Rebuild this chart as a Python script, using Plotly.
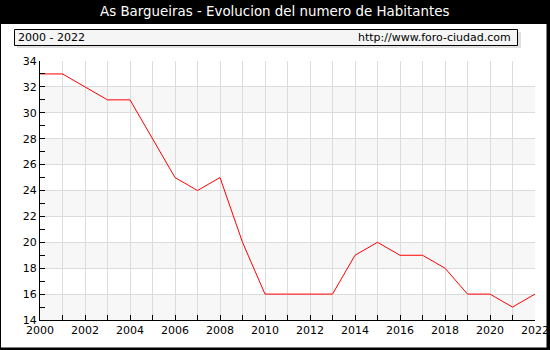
import plotly.graph_objects as go

years = list(range(2000, 2023))
habitantes = [33, 33, 32, 31, 31, 28, 25, 24, 25, 20, 16, 16, 16, 16, 19, 20, 19, 19, 18, 16, 16, 15, 16]
title_text = "As Bargueiras - Evolucion del numero de Habitantes"
period_text = "2000 - 2022"
url_text = "http://www.foro-ciudad.com"
y_range = [14, 34]
x_tick_vals = list(range(2000, 2023, 2))
y_tick_vals = list(range(14, 35, 2))
band_ranges = [(14, 16), (18, 20), (22, 24), (26, 28), (30, 32)]

W, H = 550, 350
L, R, T, B = 40, 535, 61, 320
pw, ph = R - L, B - T


def px(x):
    return (x - L) / pw


def py(y):
    return (B - y) / ph


fig = go.Figure()
fig.add_trace(go.Scatter(x=years, y=habitantes, mode="lines",
                         line=dict(color="#ff0000", width=1), hoverinfo="x+y"))

shapes = []
# white panel
shapes.append(dict(type="rect", xref="paper", yref="paper", x0=px(1), x1=px(546.5),
                   y0=py(347.5), y1=py(24), fillcolor="white", line=dict(width=0), layer="below"))
# stripes
for a, b in band_ranges:
    shapes.append(dict(type="rect", xref="paper", yref="y", x0=0, x1=1, y0=a, y1=b,
                       fillcolor="#f7f7f7", line=dict(width=0), layer="below"))
# header box shadow
shapes.append(dict(type="rect", xref="paper", yref="paper", x0=px(17), x1=px(521),
                   y0=py(48), y1=py(32), fillcolor="#e0e0e0", line=dict(width=0), layer="above"))
shapes.append(dict(type="rect", xref="paper", yref="paper", x0=px(14.5), x1=px(517.5),
                   y0=py(45.5), y1=py(29.5), fillcolor="#f5f5f5",
                   line=dict(color="black", width=1), layer="above"))

annotations = [
    dict(text=title_text, xref="paper", yref="paper", x=px(274), y=py(12), showarrow=False,
         font=dict(family="DejaVu Sans", size=13.4, color="white"), xanchor="center", yanchor="middle"),
    dict(text=period_text, xref="paper", yref="paper", x=px(16), y=py(37.5), showarrow=False,
         font=dict(family="DejaVu Sans", size=11, color="black"), xanchor="left", yanchor="middle"),
    dict(text=url_text, xref="paper", yref="paper", x=px(513), y=py(37.5), showarrow=False,
         font=dict(family="DejaVu Sans", size=11, color="black"), xanchor="right", yanchor="middle"),
]

fig.update_layout(
    width=W, height=H, autosize=False,
    margin=dict(l=L, r=W - R, t=T, b=H - B, pad=0, autoexpand=False),
    paper_bgcolor="black",
    plot_bgcolor="rgba(0,0,0,0)",
    showlegend=False,
    shapes=shapes,
    annotations=annotations,
    font=dict(family="DejaVu Sans", size=11, color="black"),
    xaxis=dict(range=[2000, 2022], tickmode="array", tickvals=x_tick_vals,
               ticktext=[str(v) for v in x_tick_vals], automargin=False,
               showgrid=True, gridcolor="#dcdcdc", gridwidth=1,
               minor=dict(dtick=1, tick0=2000, showgrid=True, gridcolor="#dcdcdc",
                          ticks="inside", ticklen=5, tickcolor="black"),
               ticks="inside", ticklen=5, tickcolor="black",
               showline=True, linecolor="black", linewidth=1, zeroline=False,
               tickfont=dict(family="DejaVu Sans", size=11, color="black")),
    yaxis=dict(range=y_range, tickmode="array", tickvals=y_tick_vals,
               ticktext=[str(v) for v in y_tick_vals], automargin=False,
               showgrid=True, gridcolor="#dcdcdc", gridwidth=1,
               minor=dict(dtick=1, tick0=14, showgrid=False,
                          ticks="inside", ticklen=5, tickcolor="black"),
               ticks="inside", ticklen=5, tickcolor="black",
               showline=True, linecolor="black", linewidth=1, zeroline=False,
               tickfont=dict(family="DejaVu Sans", size=11, color="black")),
)

fig.write_html("out.html", config={"displayModeBar": False, "responsive": False},
               post_script="document.body.style.margin='0px';document.body.style.overflow='hidden';")
